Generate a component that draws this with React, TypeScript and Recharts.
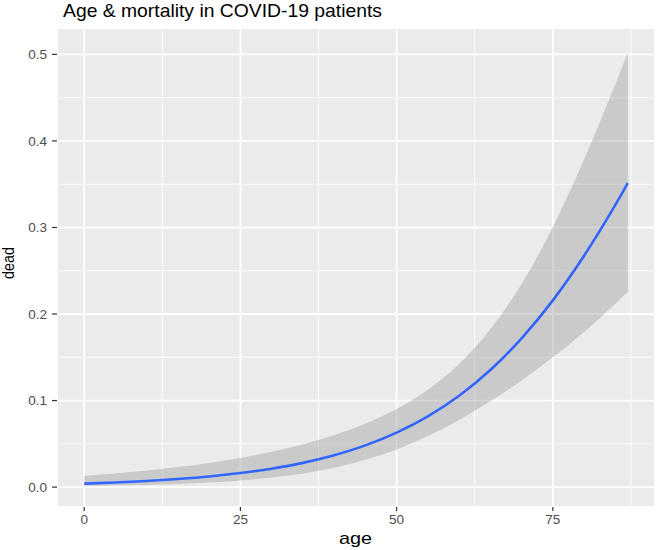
import { ComposedChart, Area, Line, XAxis, YAxis, CartesianGrid } from 'recharts'

// fitted logistic curve with 95% band, every 5 years of age
const ages = [0, 5, 10, 15, 20, 25, 30, 35, 40, 45, 50, 55, 60, 65, 70, 75, 80, 85, 87]
const fitted = [
  0.0040, 0.0053, 0.0070, 0.0093, 0.0122, 0.0162, 0.0213, 0.0280, 0.0368, 0.0482,
  0.0630, 0.0818, 0.1056, 0.1354, 0.1719, 0.2158, 0.2674, 0.3261, 0.3514,
]
const lower = [
  0.0012, 0.0018, 0.0025, 0.0037, 0.0053, 0.0077, 0.0110, 0.0158, 0.0224, 0.0315,
  0.0435, 0.0589, 0.0776, 0.0991, 0.1233, 0.1500, 0.1793, 0.2118, 0.2256,
]
const upper = [
  0.0131, 0.0158, 0.0191, 0.0231, 0.0279, 0.0337, 0.0407, 0.0494, 0.0600, 0.0733,
  0.0903, 0.1126, 0.1422, 0.1823, 0.2347, 0.3005, 0.3788, 0.4655, 0.5018,
]

const xTicks = [0, 25, 50, 75]
const xMinor = [12.5, 37.5, 62.5, 87.5]
const yTicks = [0, 0.1, 0.2, 0.3, 0.4, 0.5]
const yMinor = [0.05, 0.15, 0.25, 0.35, 0.45]
const xDomain: [number, number] = [-4.35, 91.35]
const yDomain: [number, number] = [-0.023, 0.5305]

const data = ages.map((age, i) => ({
  age,
  fit: fitted[i],
  band: [lower[i], upper[i]],
}))

const W = 657
const H = 550
const FONT = '"Liberation Sans", Arial, Helvetica, sans-serif'

// map through the axis scale when recharts hands it over, otherwise through the domain
const scaleX = (xAxis: any, offset: any, v: number) =>
  xAxis && typeof xAxis.scale === 'function'
    ? xAxis.scale(v)
    : offset.left + ((v - xDomain[0]) / (xDomain[1] - xDomain[0])) * offset.width
const scaleY = (yAxis: any, offset: any, v: number) =>
  yAxis && typeof yAxis.scale === 'function'
    ? yAxis.scale(v)
    : offset.top + ((yDomain[1] - v) / (yDomain[1] - yDomain[0])) * offset.height

export default function App() {
  const tick = { fill: '#4D4D4D', fontSize: 13.5, fontFamily: FONT }
  return (
    <div style={{ position: 'absolute', left: 0, top: 0, width: W, height: H, background: '#fff' }}>
      <ComposedChart
        width={W}
        height={H}
        data={data}
        margin={{ top: 28, right: 2, bottom: 0, left: 0 }}
      >
        <CartesianGrid
          fill="#EBEBEB"
          fillOpacity={1}
          stroke="#FFFFFF"
          strokeWidth={0.9}
          verticalCoordinatesGenerator={({ xAxis, offset }: any) => xMinor.map(v => scaleX(xAxis, offset, v))}
          horizontalCoordinatesGenerator={({ yAxis, offset }: any) => yMinor.map(v => scaleY(yAxis, offset, v))}
        />
        <CartesianGrid stroke="#FFFFFF" strokeWidth={1.8} />
        <XAxis
          dataKey="age"
          type="number"
          domain={xDomain}
          ticks={xTicks}
          allowDataOverflow
          height={43}
          axisLine={false}
          tickSize={4}
          tickMargin={3}
          tickLine={{ stroke: '#333333', strokeWidth: 1.2 }}
          tick={tick}
        />
        <YAxis
          type="number"
          domain={yDomain}
          ticks={yTicks}
          allowDataOverflow
          width={57}
          axisLine={false}
          tickSize={5}
          tickMargin={5}
          tickLine={{ stroke: '#333333', strokeWidth: 1.2 }}
          tick={tick}
          tickFormatter={(v: number) => v.toFixed(1)}
        />
        <Area
          type="monotone"
          dataKey="band"
          stroke="none"
          fill="#999999"
          fillOpacity={0.4}
          isAnimationActive={false}
          activeDot={false}
        />
        <Line
          type="monotone"
          dataKey="fit"
          stroke="#3366FF"
          strokeWidth={2.6}
          dot={false}
          activeDot={false}
          isAnimationActive={false}
        />
      </ComposedChart>
      <svg
        width={W}
        height={H}
        style={{ position: 'absolute', left: 0, top: 0, pointerEvents: 'none' }}
      >
        <text x={63} y={17} fontSize={18.5} fontFamily={FONT} fill="#000" textLength={319} lengthAdjust="spacingAndGlyphs">
          Age &amp; mortality in COVID-19 patients
        </text>
        <text x={339} y={544} fontSize={17} fontFamily={FONT} fill="#000" textLength={33} lengthAdjust="spacingAndGlyphs">
          age
        </text>
        <text
          x={14}
          y={263}
          fontSize={16.5}
          fontFamily={FONT}
          fill="#000"
          textAnchor="middle"
          textLength={32}
          lengthAdjust="spacingAndGlyphs"
          transform="rotate(-90 14 263)"
        >
          dead
        </text>
      </svg>
    </div>
  )
}
